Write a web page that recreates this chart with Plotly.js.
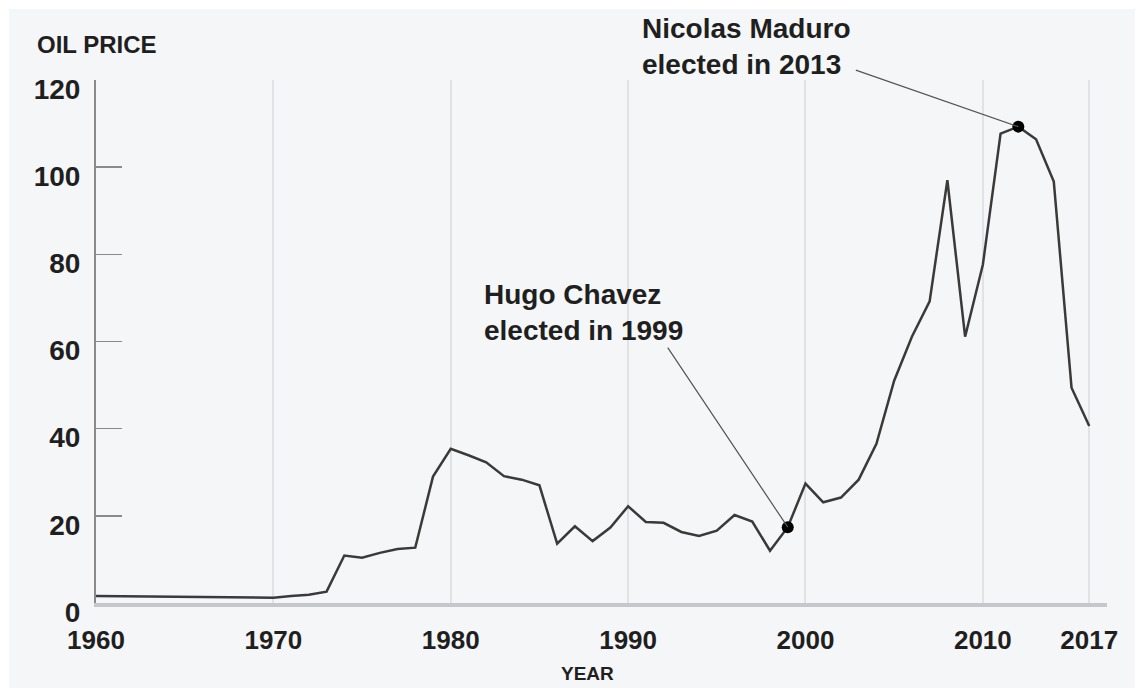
<!DOCTYPE html>
<html>
<head>
<meta charset="utf-8">
<script src="https://cdn.plot.ly/plotly-3.0.1.min.js"></script>
<style>
  html, body { margin: 0; padding: 0; background: #ffffff; }
  #chart { position: absolute; left: 9px; top: 9px; width: 1126px; height: 679px; overflow: hidden; }
</style>
</head>
<body>
<div id="chart"></div>
<script>
// ---- data ----
const years = [
  1960,1961,1962,1963,1964,1965,1966,1967,1968,1969,
  1970,1971,1972,1973,1974,1975,1976,1977,1978,1979,
  1980,1981,1982,1983,1984,1985,1986,1987,1988,1989,
  1990,1991,1992,1993,1994,1995,1996,1997,1998,1999,
  2000,2001,2002,2003,2004,2005,2006,2007,2008,2009,
  2010,2011,2012,2013,2014,2015,2016
];
const oilPrice = [
  1.6,1.55,1.5,1.45,1.4,1.35,1.35,1.3,1.3,1.25,
  1.2,1.6,1.9,2.6,10.9,10.4,11.5,12.4,12.7,29.0,
  35.4,33.9,32.3,29.1,28.3,27.0,13.6,17.6,14.2,17.3,
  22.2,18.6,18.4,16.3,15.4,16.6,20.2,18.7,12.0,17.4,
  27.4,23.1,24.2,28.3,36.5,51.0,61.1,69.2,97.0,61.1,
  77.6,107.7,109.3,106.4,96.7,49.4,40.6
];
const xTickVals = [1960,1970,1980,1990,2000,2010,2016];
const xTickText = ['1960','1970','1980','1990','2000','2010','2017'];
const yTickVals = [0,20,40,60,80,100,120];
const highlightYears = [1999, 2012];
const highlightLabels = ['Hugo Chavez<br>elected in 1999', 'Nicolas Maduro<br>elected in 2013'];

const hx = highlightYears;
const hy = highlightYears.map(y => oilPrice[years.indexOf(y)]);

const FONT = 'Liberation Sans, Arial, Helvetica, sans-serif';
const TXT = '#1f1f1f';

const traces = [
  {
    x: years, y: oilPrice, type: 'scatter', mode: 'lines',
    line: {color: '#3a3a3a', width: 2.5},
    hoverinfo: 'skip', showlegend: false
  },
  {
    x: hx, y: hy, type: 'scatter', mode: 'markers',
    marker: {color: '#000000', size: 12},
    hoverinfo: 'skip', showlegend: false
  }
];

const annotations = [
  {xref: 'paper', yref: 'paper', x: -0.0603, y: 1.067, xanchor: 'left', yanchor: 'middle',
   text: 'OIL PRICE', showarrow: false,
   font: {family: FONT, size: 24, color: TXT, weight: 'bold'}},
  {xref: 'paper', yref: 'paper', x: 0.4866, y: -0.134, xanchor: 'center', yanchor: 'middle',
   text: 'YEAR', showarrow: false,
   font: {family: FONT, size: 19, color: TXT, weight: 'bold'}},
  {xref: 'paper', yref: 'paper', x: 0.3818, y: 0.5564, xanchor: 'left', yanchor: 'middle', align: 'left',
   text: highlightLabels[0], showarrow: false,
   font: {family: FONT, size: 28, color: TXT, weight: 'bold'}},
  {xref: 'paper', yref: 'paper', x: 0.5376, y: 1.064, xanchor: 'left', yanchor: 'middle', align: 'left',
   text: highlightLabels[1], showarrow: false,
   font: {family: FONT, size: 28, color: TXT, weight: 'bold'}},
  {x: hx[0], y: hy[0], xref: 'x', yref: 'y', text: '', showarrow: true, arrowhead: 0,
   arrowwidth: 1.2, arrowcolor: '#555555', ax: -121, ay: -181},
  {x: hx[1], y: hy[1], xref: 'x', yref: 'y', text: '', showarrow: true, arrowhead: 0,
   arrowwidth: 1.2, arrowcolor: '#555555', ax: -164, ay: -57}
];

const layout = {
  width: 1126, height: 679,
  margin: {l: 87, r: 28, t: 71, b: 85},
  paper_bgcolor: '#f5f6f8',
  plot_bgcolor: '#f5f6f8',
  showlegend: false,
  xaxis: {
    range: [1960, 2017],
    tickmode: 'array', tickvals: xTickVals, ticktext: xTickText,
    showgrid: true, gridcolor: '#e1e2e5', gridwidth: 2,
    showline: true, linecolor: '#c6c7ca', linewidth: 4,
    ticks: '', zeroline: false,
    ticklabelstandoff: 11,
    tickfont: {family: FONT, size: 26, color: TXT, weight: 'bold'},
    fixedrange: true
  },
  yaxis: {
    range: [0, 120],
    tickmode: 'array', tickvals: yTickVals,
    showgrid: false, zeroline: false,
    showline: true, linecolor: '#8a8a8a', linewidth: 2,
    ticks: 'inside', ticklen: 26, tickwidth: 1.5, tickcolor: '#8a8a8a',
    ticklabelstandoff: 8, ticklabelshift: 9,
    tickfont: {family: FONT, size: 28, color: TXT, weight: 'bold'},
    fixedrange: true
  },
  annotations: annotations
};

Plotly.newPlot('chart', traces, layout, {displayModeBar: false, staticPlot: true});
</script>
</body>
</html>
